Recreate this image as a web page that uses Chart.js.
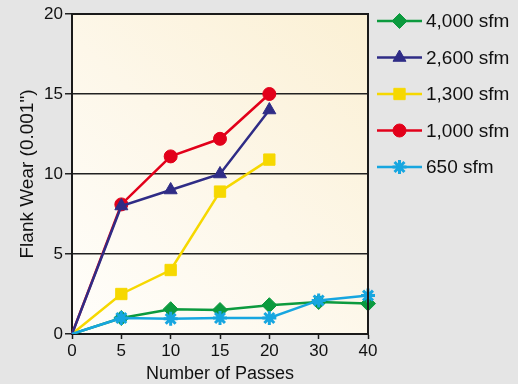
<!DOCTYPE html>
<html>
<head>
<meta charset="utf-8">
<script src="https://cdn.jsdelivr.net/npm/chart.js@4.4.1/dist/chart.umd.min.js"></script>
<style>
  html, body { margin: 0; padding: 0; background: #e5e5e5; }
  #wrap { width: 518px; height: 384px; }
</style>
</head>
<body>
<div id="wrap"><canvas id="c" width="518" height="384"></canvas></div>
<script>
// Passes (category axis) and flank wear in thousandths of an inch
const passes = ['0', '5', '10', '15', '20', '30', '40'];
const wear4000 = [0, 1.0, 1.55, 1.5, 1.8, 2.0, 1.9];
const wear2600 = [0, 8.0, 9.0, 10.0, 14.0, null, null];
const wear1300 = [0, 2.5, 4.0, 8.9, 10.9, null, null];
const wear1000 = [0, 8.1, 11.1, 12.2, 15.0, null, null];
const wear650  = [0, 1.0, 0.95, 1.0, 1.0, 2.1, 2.4];
const seriesNames = ['4,000 sfm', '2,600 sfm', '1,300 sfm', '1,000 sfm', '650 sfm'];
const yTicks = [0, 5, 10, 15, 20];

const FONT = "'Liberation Sans', Arial, sans-serif";

function series(label, data, color, style, radius, order, bw) {
  return {
    label, data, order,
    borderColor: color,
    backgroundColor: color,
    pointBackgroundColor: color,
    pointBorderColor: color,
    borderWidth: 2.5,
    pointStyle: style,
    pointBorderWidth: bw,
    pointRadius: ctx => ctx.dataIndex === 0 ? 0 : radius,
    pointHoverRadius: ctx => ctx.dataIndex === 0 ? 0 : radius,
    legendRadius: radius,
    legendBorderWidth: bw,
    tension: 0,
    spanGaps: false
  };
}

// Plot area fill and frame
const framePlugin = {
  id: 'frame',
  beforeDraw(chart) {
    const { ctx, chartArea: a } = chart;
    const g = ctx.createLinearGradient(a.left, a.bottom, a.right, a.top);
    g.addColorStop(0, '#fffefb');
    g.addColorStop(0.5, '#fdf7e9');
    g.addColorStop(1, '#fbf0d4');
    ctx.save();
    ctx.fillStyle = g;
    ctx.fillRect(a.left, a.top, a.right - a.left, a.bottom - a.top);
    ctx.restore();
  },
  afterDraw(chart) {
    const { ctx, chartArea: a } = chart;
    ctx.save();
    ctx.strokeStyle = '#1a1a1a';
    ctx.lineWidth = 2;
    ctx.beginPath();
    ctx.moveTo(a.left, a.top);
    ctx.lineTo(a.right, a.top);
    ctx.lineTo(a.right, a.bottom);
    ctx.stroke();
    ctx.restore();
  }
};

// Legend: line sample with marker, then label
const legendPlugin = {
  id: 'sideLegend',
  afterDraw(chart) {
    const { ctx } = chart;
    const x0 = 377, x1 = 422, tx = 426, y0 = 21, dy = 36.5;
    ctx.save();
    chart.data.datasets.forEach((ds, i) => {
      const y = y0 + i * dy;
      ctx.strokeStyle = ds.borderColor;
      ctx.lineWidth = ds.borderWidth;
      ctx.beginPath();
      ctx.moveTo(x0, y);
      ctx.lineTo(x1, y);
      ctx.stroke();
      ctx.fillStyle = ds.pointBackgroundColor;
      ctx.strokeStyle = ds.pointBorderColor;
      ctx.lineWidth = ds.legendBorderWidth;
      Chart.helpers.drawPoint(ctx, {
        pointStyle: ds.pointStyle,
        radius: ds.legendRadius,
        borderWidth: ds.legendBorderWidth,
        rotation: 0
      }, (x0 + x1) / 2, y);
      ctx.fillStyle = '#111';
      ctx.font = '19px ' + FONT;
      ctx.textBaseline = 'middle';
      ctx.textAlign = 'left';
      ctx.fillText(ds.label, tx, y + 1);
    });
    ctx.restore();
  }
};

new Chart(document.getElementById('c'), {
  type: 'line',
  data: {
    labels: passes,
    datasets: [
      series(seriesNames[0], wear4000, '#0c9a3e', 'rectRot', 7.5, 5, 1),
      series(seriesNames[1], wear2600, '#2f2c86', 'triangle', 7.5, 2, 1),
      series(seriesNames[2], wear1300, '#f6d800', 'rect', 8, 3, 1),
      series(seriesNames[3], wear1000, '#e2001a', 'circle', 6.5, 4, 1),
      series(seriesNames[4], wear650, '#17a6e0', 'star', 7, 1, 3)
    ]
  },
  options: {
    responsive: false,
    animation: false,
    devicePixelRatio: 1,
    layout: { padding: { top: 14, right: 150, left: 0, bottom: 0 } },
    plugins: { legend: { display: false }, tooltip: { enabled: false }, title: { display: false } },
    scales: {
      x: {
        type: 'category',
        offset: false,
        afterFit(s) { s.height = 50; },
        border: { display: true, color: '#1a1a1a', width: 2 },
        grid: { drawOnChartArea: false, drawTicks: true, tickLength: 5, tickColor: '#1a1a1a', tickWidth: 1.5 },
        ticks: { color: '#111', font: { family: FONT, size: 17 }, padding: 2, maxRotation: 0, autoSkip: false },
        title: { display: true, text: 'Number of Passes', color: '#111', font: { family: FONT, size: 18, lineHeight: 1 }, padding: { top: 0, bottom: 1 } }
      },
      y: {
        min: 0, max: 20,
        afterFit(s) { s.width = 72; },
        afterBuildTicks(s) { s.ticks = yTicks.map(v => ({ value: v })); },
        border: { display: true, color: '#1a1a1a', width: 2 },
        grid: {
          drawTicks: true, tickLength: 7,
          color: c => (c.tick && (c.tick.value === 0 || c.tick.value === 20)) ? 'rgba(0,0,0,0)' : '#222',
          tickColor: '#222',
          lineWidth: 1.5
        },
        ticks: { color: '#111', font: { family: FONT, size: 17 }, padding: 2 },
        title: { display: true, text: 'Flank Wear (0.001")', color: '#111', font: { family: FONT, size: 19, lineHeight: 1 }, padding: { top: 18, bottom: 0 } }
      }
    }
  },
  plugins: [framePlugin, legendPlugin]
});
</script>
</body>
</html>
